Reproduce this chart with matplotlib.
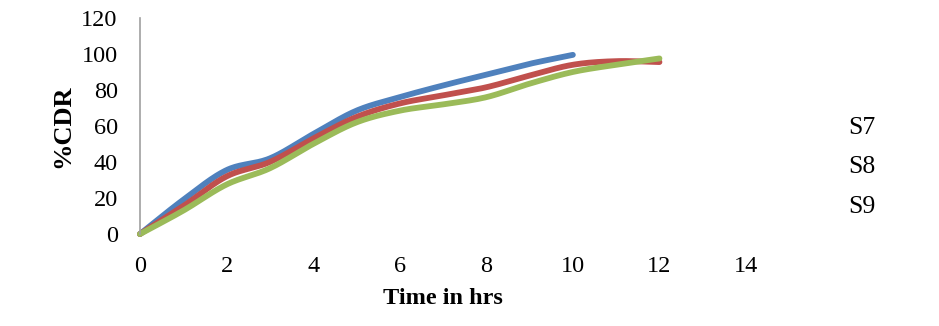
import numpy as np
import matplotlib
matplotlib.use("Agg")
import matplotlib.pyplot as plt

time_s7 = [0, 1, 2, 3, 4, 5, 6, 7, 8, 9, 10]
s7 = [0, 19, 35.5, 42, 55.5, 68.5, 76, 82.5, 88.5, 94.5, 99.5]
time_s8 = [0, 1, 2, 3, 4, 5, 6, 7, 8, 9, 10, 11, 12]
s8 = [0, 15.5, 32, 40, 53, 65, 72.5, 77, 81.5, 88, 94, 96, 95.5]
time_s9 = [0, 1, 2, 3, 4, 5, 6, 7, 8, 9, 10, 11, 12]
s9 = [0, 13, 27.5, 36.5, 50, 62, 68.5, 72, 76, 83.5, 90, 94, 97.5]
labels = ["S7", "S8", "S9"]
colors = ["#4F81BD", "#C0504D", "#9BBB59"]
x_ticks = [0, 2, 4, 6, 8, 10, 12, 14]
y_ticks = [0, 20, 40, 60, 80, 100, 120]


def smooth(x, y, n=30):
    x = np.asarray(x, float)
    y = np.asarray(y, float)
    px = np.concatenate([[2 * x[0] - x[1]], x, [2 * x[-1] - x[-2]]])
    py = np.concatenate([[2 * y[0] - y[1]], y, [2 * y[-1] - y[-2]]])
    xs, ys = [], []
    for i in range(1, len(px) - 2):
        t = np.linspace(0, 1, n, endpoint=False)
        for arr, out in ((px, xs), (py, ys)):
            p0, p1, p2, p3 = arr[i - 1], arr[i], arr[i + 1], arr[i + 2]
            out.append(0.5 * ((2 * p1) + (-p0 + p2) * t
                              + (2 * p0 - 5 * p1 + 4 * p2 - p3) * t ** 2
                              + (-p0 + 3 * p1 - 3 * p2 + p3) * t ** 3))
    xs.append([x[-1]])
    ys.append([y[-1]])
    return np.concatenate(xs), np.concatenate(ys)


plt.rcParams['font.family'] = ['Liberation Serif', 'DejaVu Serif']
fig = plt.figure(figsize=(9.39, 3.26), dpi=100)
ax = fig.add_axes([0.149, 0.282, 0.6455, 0.663])

lines = []
for (tx, ty), lab, c in zip(((time_s7, s7), (time_s8, s8), (time_s9, s9)), labels, colors):
    sx, sy = smooth(tx, ty)
    ln, = ax.plot(sx, sy, color=c, lw=4.2, label=lab, solid_capstyle='round', clip_on=False)
    lines.append(ln)

ax.set_xlim(0, 14)
ax.set_ylim(0, 120)
ax.set_xticks(x_ticks)
ax.set_yticks(y_ticks)
ax.tick_params(length=0, labelsize=17.5)
ax.tick_params(axis='x', pad=16)
ax.tick_params(axis='y', pad=16)
for s in ['top', 'right', 'bottom']:
    ax.spines[s].set_visible(False)
ax.spines['left'].set_color('#A0A0A0')
ax.spines['left'].set_linewidth(1.2)

ax.set_xlabel("Time in hrs", fontsize=17.5, fontweight='bold')
ax.xaxis.set_label_coords(0.5, -0.296)
ax.xaxis.label.set_va('center')
ax.set_ylabel("%CDR", fontsize=19, fontweight='bold')
ax.yaxis.set_label_coords(-0.127, 0.5)
ax.yaxis.label.set_va('center')

leg = fig.legend(handles=lines, loc='center left',
                 bbox_to_anchor=(848 / 939, 1 - 167 / 326),
                 frameon=False, handlelength=0, handletextpad=0, fontsize=18.5,
                 labelspacing=0.66, borderpad=0, borderaxespad=0)
for h in leg.legend_handles:
    h.set_visible(False)

fig.savefig("out.png", dpi=100)
